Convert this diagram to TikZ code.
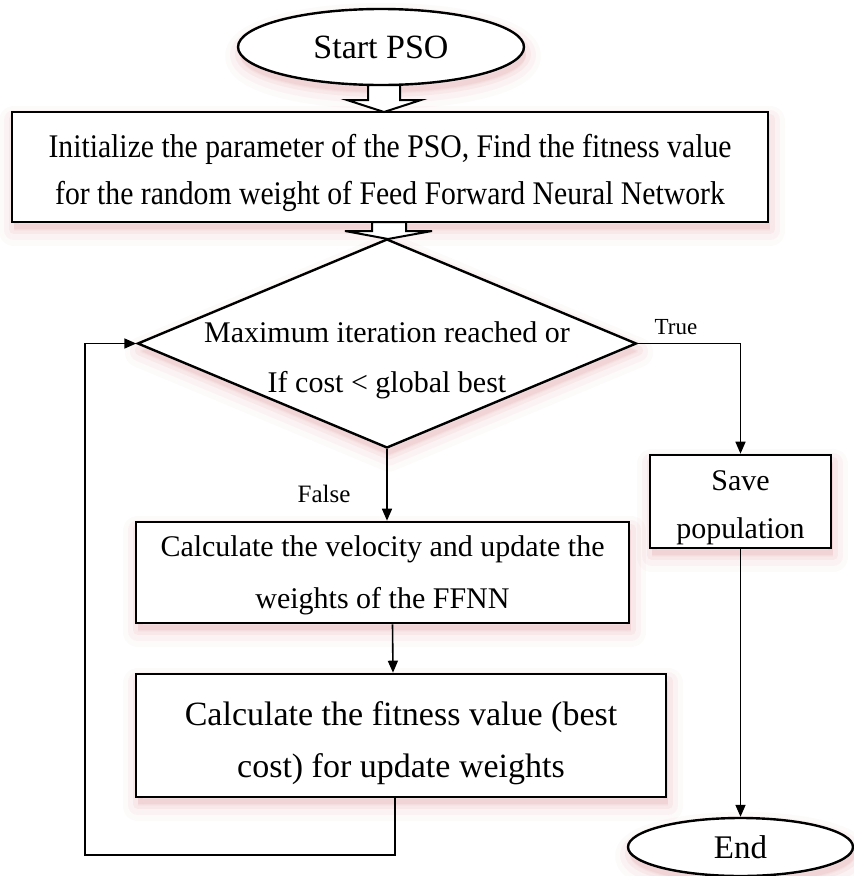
\documentclass[tikz,border=0pt]{standalone}
\usepackage{fontspec}
\setmainfont{Liberation Serif}
\newfontfamily\narrowserif[FakeStretch=0.9]{Liberation Serif}
\usetikzlibrary{shapes.geometric,arrows.meta}

\definecolor{shadowc}{RGB}{200,50,60}

\tikzset{
  softshadow/.style={
    preaction={draw=shadowc, fill=shadowc, line width=30pt, opacity=0.025, line join=round, transform canvas={xshift=2pt,yshift=-9pt}},
    preaction={draw=shadowc, fill=shadowc, line width=20pt, opacity=0.035, line join=round, transform canvas={xshift=2pt,yshift=-8pt}},
    preaction={draw=shadowc, fill=shadowc, line width=10pt, opacity=0.05, line join=round, transform canvas={xshift=2pt,yshift=-7pt}}
  },
  procbox/.style={rectangle, draw=black, line width=2.6pt, fill=white, softshadow, inner sep=0pt, align=center},
  terminal/.style={ellipse, draw=black, line width=2.4pt, fill=white, softshadow, inner sep=0pt},
  decision/.style={diamond, draw=black, line width=2.4pt, fill=white, softshadow, inner sep=0pt},
  boxtext/.style={align=center, inner sep=0pt},
  conn/.style={draw=black, line width=1.6pt, -{Triangle[length=12pt,width=10pt]}},
  hollowarrow/.style={draw=black, line width=2pt, fill=white, line join=miter},
  edgelabel/.style={inner sep=0pt}
}

\begin{document}
\begin{tikzpicture}[x=1pt,y=-1pt]
  \fill[white] (0,0) rectangle (854,876);
  \useasboundingbox (0,0) rectangle (854,876);

  % shapes
  \node[terminal, minimum width=286pt, minimum height=76pt,
        font=\fontsize{34}{40}\selectfont] (start) at (381,47) {Start PSO};

  \node[procbox, minimum width=756pt, minimum height=110pt] (init) at (390,167) {};
  \node[boxtext, font=\narrowserif\fontsize{33}{47}\selectfont] (inittext)
    at ([yshift=-6pt]init.center)
    {Initialize the parameter of the PSO, Find the fitness value\\
     for the random weight of Feed Forward Neural Network};

  \node[decision, minimum width=499pt, minimum height=209pt] (dec) at (387,343.5) {};
  \node[boxtext, font=\fontsize{30}{50}\selectfont] (dectext)
    at ([yshift=-17pt]dec.center)
    {Maximum iteration reached or\\ If cost < global best};

  \node[procbox, minimum width=181pt, minimum height=93pt] (save) at (740.5,501.5) {};
  \node[boxtext, font=\fontsize{30}{48}\selectfont] (savetext)
    at ([yshift=-6pt]save.center) {Save\\ population};

  \node[procbox, minimum width=493pt, minimum height=101pt] (upd) at (382.5,572.5) {};
  \node[boxtext, font=\fontsize{30}{52}\selectfont] (updtext)
    at ([yshift=-3pt]upd.center)
    {Calculate the velocity and update the\\ weights of the FFNN};

  \node[procbox, minimum width=530pt, minimum height=123pt] (fit) at (401,735.5) {};
  \node[boxtext, font=\fontsize{34}{52}\selectfont] (fittext)
    at ([yshift=-8pt]fit.center)
    {Calculate the fitness value (best\\ cost) for update weights};

  \node[terminal, minimum width=225pt, minimum height=58pt,
        font=\fontsize{33}{40}\selectfont] (end) at (740.5,847) {End};

  % hollow block arrows between the first shapes
  \draw[hollowarrow] (368,85) -- (400,85) -- (400,100) -- (421,100) -- (384,112)
    -- (347,100) -- (368,100) -- cycle;
  \draw[hollowarrow] (372,222) -- (406,222) -- (406,231) -- (432,231) -- (388,239)
    -- (345,231) -- (372,231) -- cycle;

  % connectors
  \draw[conn] (dec.east) -| (save.north);
  \node[edgelabel, font=\fontsize{23}{26}\selectfont] (truelbl) at (676,327) {True};

  \draw[conn] (dec.south) -- (dec.south |- upd.north);
  \node[edgelabel, font=\fontsize{25}{28}\selectfont] (falselbl) at (324,494) {False};

  \draw[conn] ([xshift=10pt]upd.south) -- ([xshift=-8pt]fit.north);

  \draw[conn] (save.south) -- (end.north);

  \coordinate (loopc) at (85,855);
  \draw[conn] ([xshift=-6pt]fit.south) |- (loopc) |- (dec.west);
\end{tikzpicture}
\end{document}
